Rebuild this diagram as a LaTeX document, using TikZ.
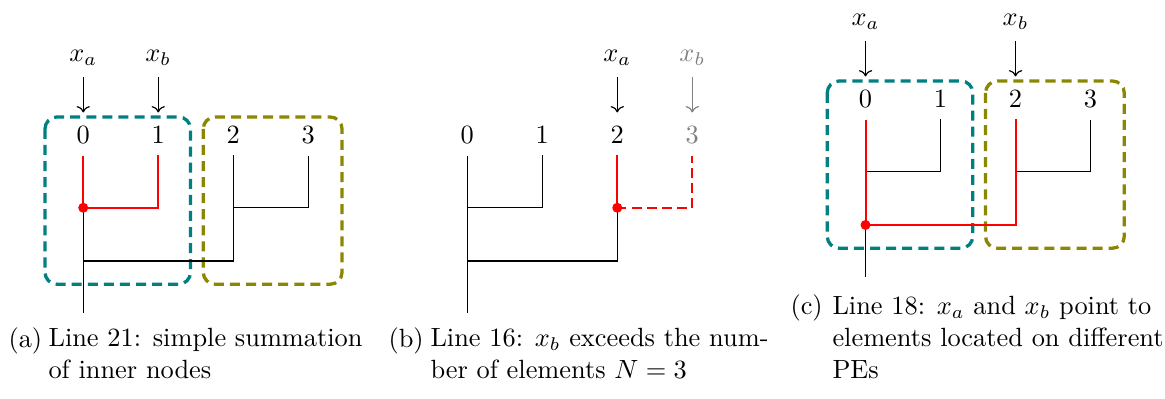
\documentclass[tikz,border=0pt]{standalone}
\usetikzlibrary{arrows.meta, positioning}

\begin{document}
\begin{tikzpicture}[
    leaf/.style={inner sep=0pt, outer sep=4.2pt, anchor=base},
    ptr/.style={inner sep=0pt, outer sep=4.5pt},
    pointsto/.style={-{To[length=2.4pt]}, line width=0.45pt, shorten >=1.1pt},
    edge/.style={line width=0.45pt},
    hot/.style={red, line width=0.75pt},
    dot/.style={circle, fill=red, inner sep=0pt, minimum size=3.8pt},
    pe/.style={line width=1.25pt, dash pattern=on 3.8pt off 2.3pt,
               rounded corners=4.5pt},
    sublabel/.style={anchor=base west, inner sep=0pt},
    subtext/.style={anchor=base west, align=left, inner sep=0pt,
                    font=\fontsize{10}{12.2}\selectfont},
]
\useasboundingbox (0,0) rectangle (15.533,-5.307);

% (a) simple summation
\begin{scope}[shift={(1.11,-1.92)}]
\draw[pe, teal] (-0.51,0.36) rectangle (1.43,-1.87);
\draw[pe, olive] (1.6,0.36) rectangle (3.45,-1.87);
\node[leaf] (a0) at (0,0) {0};
\node[leaf] (a1) at (1,0) {1};
\node[leaf] (a2) at (2,0) {2};
\node[leaf] (a3) at (3,0) {3};
\node[ptr, above=14.4pt of a0] (axa) {$x_a$};
\node[ptr, above=14.4pt of a1] (axb) {$x_b$};
\coordinate (aj01) at (0,-0.85);
\coordinate (aj23) at (2,-0.85);
\coordinate (ajall) at (0,-1.56);
\coordinate (aroot) at (0,-2.25);
\draw[pointsto] (axa) -- (a0);
\draw[pointsto] (axb) -- (a1);
\draw[edge] (aj01) -- (aroot);
\draw[edge] (a2) |- (ajall);
\draw[edge] (aj23) -| (a3);
\draw[hot] (a0) -- (aj01) -| (a1);
\node[dot] (adot) at (aj01) {};
\end{scope}

% (b) x_b out of range
\begin{scope}[shift={(6.23,-1.92)}]
\node[leaf] (b0) at (0,0) {0};
\node[leaf] (b1) at (1,0) {1};
\node[leaf] (b2) at (2,0) {2};
\node[leaf, text=gray] (b3) at (3,0) {3};
\node[ptr, above=14.4pt of b2] (bxa) {$x_a$};
\node[ptr, above=14.4pt of b3, text=gray] (bxb) {$x_b$};
\coordinate (bj01) at (0,-0.85);
\coordinate (bj23) at (2,-0.85);
\coordinate (bjall) at (0,-1.56);
\coordinate (broot) at (0,-2.25);
\draw[pointsto] (bxa) -- (b2);
\draw[pointsto, gray] (bxb) -- (b3);
\draw[edge] (b0) -- (broot);
\draw[edge] (bj01) -| (b1);
\draw[edge] (bj23) |- (bjall);
\draw[hot] (b2) -- (bj23);
\draw[hot, dash pattern=on 3.5pt off 2.2pt] (bj23) -| (b3);
\node[dot] (bdot) at (bj23) {};
\end{scope}

% (c) elements on different PEs
\begin{scope}[shift={(11.54,-1.44)}]
\draw[pe, teal] (-0.51,0.36) rectangle (1.43,-1.87);
\draw[pe, olive] (1.6,0.36) rectangle (3.45,-1.87);
\node[leaf] (c0) at (0,0) {0};
\node[leaf] (c1) at (1,0) {1};
\node[leaf] (c2) at (2,0) {2};
\node[leaf] (c3) at (3,0) {3};
\node[ptr, above=14.4pt of c0] (cxa) {$x_a$};
\node[ptr, above=14.4pt of c2] (cxb) {$x_b$};
\coordinate (cj01) at (0,-0.85);
\coordinate (cj23) at (2,-0.85);
\coordinate (cjall) at (0,-1.56);
\coordinate (croot) at (0,-2.25);
\draw[pointsto] (cxa) -- (c0);
\draw[pointsto] (cxb) -- (c2);
\draw[edge] (cj01) -| (c1);
\draw[edge] (cj23) -| (c3);
\draw[edge] (cjall) -- (croot);
\draw[hot] (c0) -- (cjall) -| (c2);
\node[dot] (cdot) at (cjall) {};
\end{scope}

% sub-captions (base anchor sits on the last line)
\node[sublabel] (capa) at (0.107,-4.627) {(a)};
\node[subtext] (capatext) at (0.64,-5.053) {Line 21: simple summation\\of inner nodes};
\node[sublabel] (capb) at (5.173,-4.627) {(b)};
\node[subtext] (capbtext) at (5.733,-5.053) {Line 16: $x_b$ exceeds the num-\\ber of elements $N=3$};
\node[sublabel] (capc) at (10.533,-4.2) {(c)};
\node[subtext] (capctext) at (11.093,-5.053) {Line 18: $x_a$ and $x_b$ point to\\elements located on different\\PEs};
\end{tikzpicture}
\end{document}
